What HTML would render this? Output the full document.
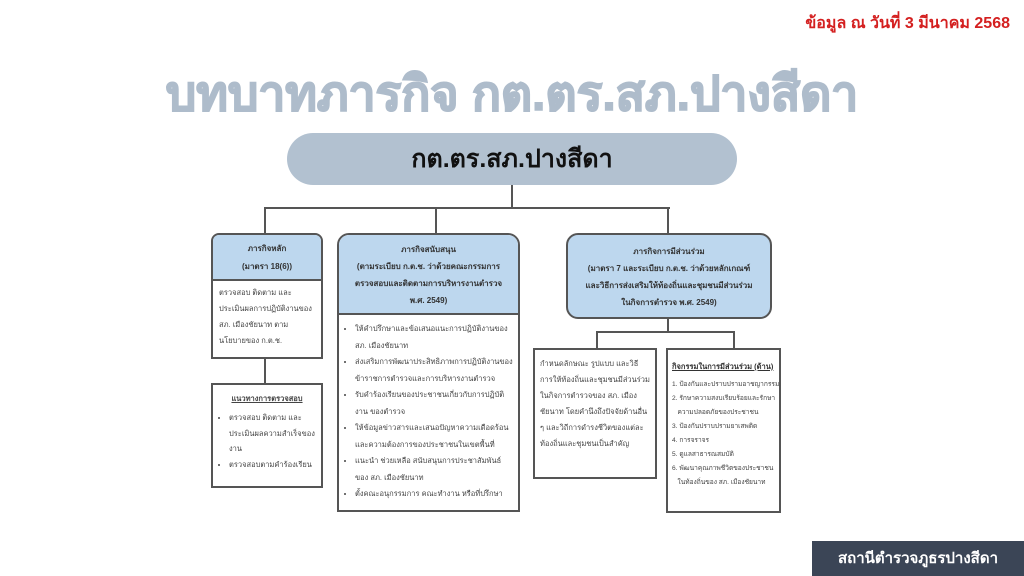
<!DOCTYPE html><html><head><meta charset="utf-8"><style>
body{margin:0;width:1024px;height:576px;background:#fff;position:relative;overflow:hidden;font-family:"Liberation Sans","Noto Sans CJK SC",sans-serif}
.a{position:absolute}
.ln{position:absolute;background:#555}
.box{position:absolute;border:2px solid #555;background:#fff;box-sizing:border-box;font-size:7.5px;color:#444;line-height:15px}
.hd{background:#bdd7ee;border-bottom:2px solid #555;text-align:center;font-weight:bold;color:#333;font-size:8px;line-height:16px}
ul{margin:0;padding:4px 4px 0 16px}li{margin:0}
</style></head><body>
<div class="a" style="right:14px;top:11px;color:#d42020;font-weight:bold;font-size:16px">ข้อมูล ณ วันที่ 3 มีนาคม 2568</div>
<div class="a" style="left:0;width:1024px;top:56px;text-align:center;color:#aebccb;font-weight:bold;font-size:48px;-webkit-text-stroke:1.5px #aebccb">บทบาทภารกิจ กต.ตร.สภ.ปางสีดา</div>
<div class="a" style="left:287px;top:133px;width:450px;height:52px;border-radius:26px;background:#b2c1d0;text-align:center;line-height:52px;font-weight:bold;font-size:25px;color:#111">กต.ตร.สภ.ปางสีดา</div>
<div class="ln" style="left:511px;top:185px;width:2px;height:24px"></div>
<div class="ln" style="left:264px;top:207px;width:406px;height:2px"></div>
<div class="ln" style="left:264px;top:207px;width:2px;height:26px"></div>
<div class="ln" style="left:435px;top:207px;width:2px;height:26px"></div>
<div class="ln" style="left:667px;top:207px;width:2px;height:26px"></div>
<div class="ln" style="left:264px;top:358px;width:2px;height:25px"></div>
<div class="ln" style="left:667px;top:318px;width:2px;height:15px"></div>
<div class="ln" style="left:596px;top:331px;width:139px;height:2px"></div>
<div class="ln" style="left:596px;top:331px;width:2px;height:17px"></div>
<div class="ln" style="left:733px;top:331px;width:2px;height:17px"></div>

<div class="box" style="left:211px;top:233px;width:112px;height:126px;border-radius:8px 8px 0 0;overflow:hidden">
<div class="hd" style="height:46px;padding-top:5px;box-sizing:border-box;line-height:18px">ภารกิจหลัก<br>(มาตรา 18(6))</div>
<div style="padding:4px 6px;line-height:16px">ตรวจสอบ ติดตาม และประเมินผลการปฏิบัติงานของ สภ. เมืองชัยนาท ตามนโยบายของ ก.ต.ช.</div></div>

<div class="box" style="left:211px;top:383px;width:112px;height:105px">
<div style="text-align:center;text-decoration:underline;font-weight:bold;padding-top:6px">แนวทางการตรวจสอบ</div>
<ul style="line-height:15.5px"><li>ตรวจสอบ ติดตาม และประเมินผลความสำเร็จของงาน</li><li>ตรวจสอบตามคำร้องเรียน</li></ul></div>

<div class="box" style="left:337px;top:233px;width:183px;height:279px;border-radius:12px 12px 0 0;overflow:hidden">
<div class="hd" style="height:80px;padding-top:6px;box-sizing:border-box;line-height:17px">ภารกิจสนับสนุน<br>(ตามระเบียบ ก.ต.ช. ว่าด้วยคณะกรรมการ<br>ตรวจสอบและติดตามการบริหารงานตำรวจ<br>พ.ศ. 2549)</div>
<ul style="line-height:16.5px;padding-top:6px"><li>ให้คำปรึกษาและข้อเสนอแนะการปฏิบัติงานของ สภ. เมืองชัยนาท</li><li>ส่งเสริมการพัฒนาประสิทธิภาพการปฏิบัติงานของข้าราชการตำรวจและการบริหารงานตำรวจ</li><li>รับคำร้องเรียนของประชาชนเกี่ยวกับการปฏิบัติงาน ของตำรวจ</li><li>ให้ข้อมูลข่าวสารและเสนอปัญหาความเดือดร้อนและความต้องการของประชาชนในเขตพื้นที่</li><li>แนะนำ ช่วยเหลือ สนับสนุนการประชาสัมพันธ์ของ สภ. เมืองชัยนาท</li><li>ตั้งคณะอนุกรรมการ คณะทำงาน หรือที่ปรึกษา</li></ul></div>

<div class="box" style="left:566px;top:233px;width:206px;height:86px;border-radius:12px;background:#bdd7ee;text-align:center;font-weight:bold;color:#333;font-size:8px;line-height:17px;padding-top:8px">ภารกิจการมีส่วนร่วม<br>(มาตรา 7 และระเบียบ ก.ต.ช. ว่าด้วยหลักเกณฑ์<br>และวิธีการส่งเสริมให้ท้องถิ่นและชุมชนมีส่วนร่วม<br>ในกิจการตำรวจ พ.ศ. 2549)</div>

<div class="box" style="left:533px;top:348px;width:124px;height:131px;padding:6px 5px;line-height:16px">กำหนดลักษณะ รูปแบบ และวิธีการให้ท้องถิ่นและชุมชนมีส่วนร่วมในกิจการตำรวจของ สภ. เมืองชัยนาท โดยคำนึงถึงปัจจัยด้านอื่น ๆ และวิถีการดำรงชีวิตของแต่ละท้องถิ่นและชุมชนเป็นสำคัญ</div>

<div class="box" style="left:666px;top:348px;width:115px;height:165px;padding:6px 4px;font-size:6.6px;line-height:14px;overflow:hidden;white-space:nowrap">
<div style="font-weight:bold;text-decoration:underline;font-size:7.5px;color:#333;line-height:22px">กิจกรรมในการมีส่วนร่วม (ด้าน)</div>
1. ป้องกันและปราบปรามอาชญากรรม<br>2. รักษาความสงบเรียบร้อยและรักษา<br>&nbsp;&nbsp;&nbsp;ความปลอดภัยของประชาชน<br>3. ป้องกันปราบปรามยาเสพติด<br>4. การจราจร<br>5. ดูแลสาธารณสมบัติ<br>6. พัฒนาคุณภาพชีวิตของประชาชน<br>&nbsp;&nbsp;&nbsp;ในท้องถิ่นของ สภ. เมืองชัยนาท</div>

<div class="a" style="left:812px;top:541px;width:212px;height:35px;background:#3b4556;color:#fff;font-weight:bold;font-size:15px;line-height:35px;text-align:center">สถานีตำรวจภูธรปางสีดา</div>
</body></html>
